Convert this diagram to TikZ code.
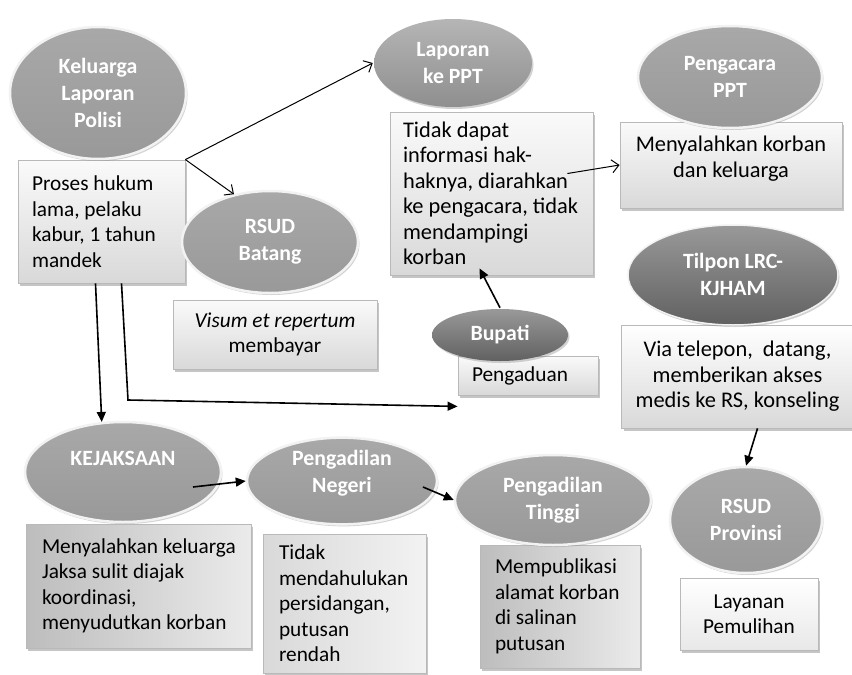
\documentclass[tikz,border=0pt]{standalone}
\usepackage{fontspec}
\setmainfont{Carlito}
\usepackage{tikz}
\usetikzlibrary{shapes.geometric, shadows, arrows.meta}

\newcommand\boxfont{\fontsize{21.3}{25.5}\selectfont}
\newcommand\bigboxfont{\fontsize{22.4}{25.5}\selectfont}

\tikzset{
  oval/.style={ellipse, draw=gray!10, line width=2.5pt, top color=gray!68, bottom color=gray!80,
    text=white, font=\bfseries\fontsize{21.8}{27}\selectfont, align=center, inner sep=0pt,
    drop shadow={shadow xshift=1.5pt, shadow yshift=-2pt, opacity=.35}},
  darkoval/.style={oval, top color=black!40, bottom color=black!62},
  infobox/.style={rectangle, draw=gray!55, line width=0.8pt, top color=gray!4, bottom color=gray!30,
    font=\boxfont, inner xsep=14pt, inner ysep=3pt,
    drop shadow={shadow xshift=2pt, shadow yshift=-2.5pt, opacity=.45}},
  darkbox/.style={infobox, left color=gray!52, right color=gray!16},
  openarr/.style={-{Straight Barb[length=7pt,width=13pt]}, line width=1pt},
  fillarr/.style={-{Triangle[length=10pt,width=9pt]}, line width=1.6pt},
}

\begin{document}
\begin{tikzpicture}[x=1pt, y=-1pt]
\useasboundingbox[fill=white] (0,0) rectangle (852,675);
%
\node[infobox, align=flush left, text width=139pt, minimum height=123pt] (proses) at (101.5,221.5)
  {Proses hukum\\lama, pelaku\\\mbox{kabur, 1 tahun}\\mandek};
\node[infobox, align=center, minimum width=204pt, minimum height=69pt] (visum) at (275,334.5)
  {\textit{Visum et repertum}\\membayar};
\node[infobox, align=flush left, font=\bigboxfont, inner xsep=13pt, text width=177pt, minimum height=163pt] (tidak) at (491.5,193.5)
  {Tidak dapat\\informasi hak-\\\mbox{haknya, diarahkan}\\\mbox{ke pengacara, tidak}\\mendampingi\\korban};
\node[infobox, align=center, font=\bigboxfont, minimum width=222pt, minimum height=86pt] (menk) at (731,165)
  {Menyalahkan korban\\dan keluarga\\[-9pt]\mbox{}};
\node[infobox, align=center, font=\bigboxfont, top color=white, minimum width=225pt, minimum height=103pt] (via) at (737.5,376.5)
  {Via telepon,\ \ datang,\\memberikan akses\\medis ke RS, konseling};
\node[infobox, align=flush left, text width=112pt, minimum height=39pt] (pengaduan) at (528,375.5)
  {Pengaduan};
\node[darkbox, align=flush left, inner xsep=16pt, text width=193pt, minimum height=124pt] (menkel) at (138.5,586)
  {\mbox{Menyalahkan keluarga}\\Jaksa sulit diajak\\koordinasi,\\\mbox{menyudutkan korban}};
\node[infobox, left color=gray!30, right color=gray!10, align=flush left, inner xsep=16pt, text width=131pt, minimum height=139pt] (tidakm) at (344.5,603.5)
  {Tidak\\mendahulukan\\persidangan,\\putusan\\rendah};
\node[darkbox, align=flush left, inner xsep=15pt, text width=130pt, minimum height=123pt] (mempub) at (560,606.5)
  {Mempublikasi\\\mbox{alamat korban}\\di salinan\\putusan};
\node[infobox, top color=white, bottom color=gray!18, align=center, minimum width=138pt, minimum height=72pt] (layanan) at (749,614)
  {Layanan\\Pemulihan};
%
\node[oval, minimum width=176pt, minimum height=132pt] (kel) at (98,93) {Keluarga\\Laporan\\Polisi};
\node[oval, draw=none, top color=gray!58, bottom color=gray!88, minimum width=158pt, minimum height=88pt] (lap) at (453,63) {Laporan\\ke PPT};
\node[oval, minimum width=184pt, minimum height=102pt] (pengacara) at (730,77) {Pengacara\\PPT};
\node[oval, minimum width=176pt, minimum height=102pt] (batang) at (270,242) {RSUD\\Batang};
\node[darkoval, line width=1.5pt, minimum width=210pt, minimum height=100pt] (tilpon) at (733,275) {\mbox{}\\[-13pt]Tilpon LRC-\\KJHAM};
\node[darkoval, draw=none, minimum width=136pt, minimum height=52pt] (bupati) at (500,335) {Bupati};
\node[oval, minimum width=196pt, minimum height=100pt] (kej) at (123,472) {KEJAKSAAN\\ \mbox{}};
\node[oval, minimum width=190pt, minimum height=84pt] (negeri) at (342,481) {Pengadilan\\Negeri\\[-8pt]\mbox{}};
\node[oval, minimum width=196pt, minimum height=90pt] (tinggi) at (553,500) {Pengadilan\\Tinggi};
\node[oval, minimum width=152pt, minimum height=106pt] (prov) at (746,520) {RSUD\\Provinsi};
%
\coordinate (elbow) at (128,400);
%
\draw[openarr] (proses.north east) -- (lap.west);
\draw[openarr] (proses.north east) -- (batang.127);
\draw[openarr] ([shift={(-26,-20)}]tidak.east) -- (menk.west);
\draw[fillarr] (bupati.north) -- ([shift={(-12,-7)}]tidak.south);
\draw[fillarr] ([xshift=-6pt]proses.south) -- (kej.113);
\draw[fillarr] ([xshift=20pt]proses.south) -- (elbow) -- ([yshift=-11pt]pengaduan.south west);
\draw[fillarr] ([shift={(70,15)}]kej.center) -- (negeri.west);
\draw[fillarr] ([shift={(81,6)}]negeri.center) -- (tinggi.west);
\draw[fillarr] ([xshift=20pt]via.south) -- (prov.north);
%
\end{tikzpicture}
\end{document}
